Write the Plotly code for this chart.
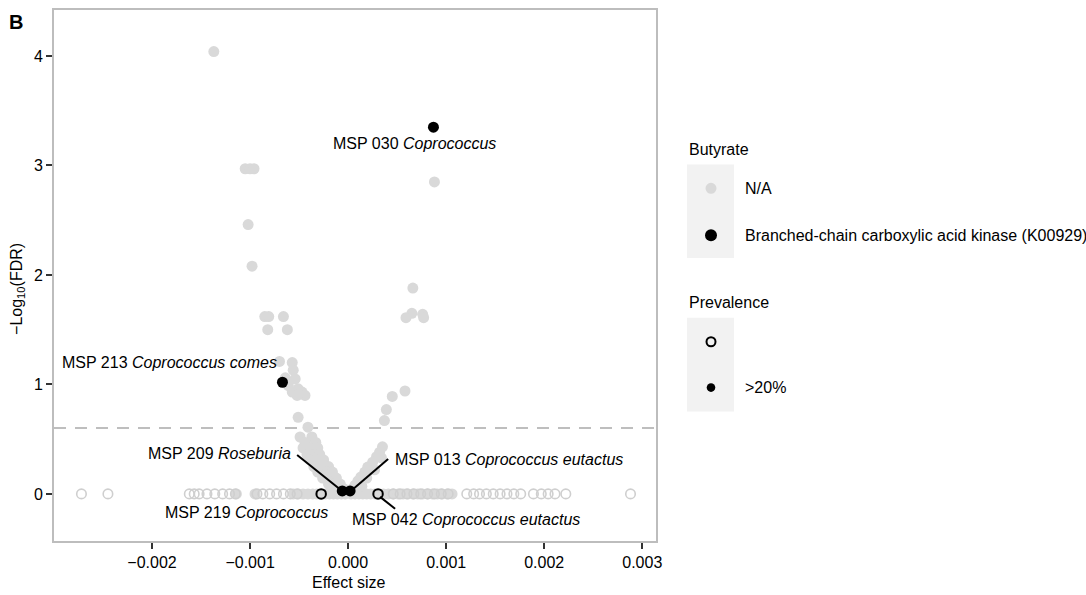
import plotly.graph_objects as go

# ---------------- data ----------------
# Butyrate N/A, prevalence >20% (filled light grey)
na_hi_x = [-0.00137,
           -0.00105, -0.00100, -0.00096,
           -0.00102, -0.00098,
           -0.00085, -0.00081, -0.00066, -0.00082, -0.00062,
           0.00088, 0.00066, 0.00065, 0.00059, 0.00076, 0.00077,
           0.00058, 0.00045, 0.00039, 0.00037, 0.00035,
           -0.00070, -0.00057, -0.00056, -0.00054, -0.00051, -0.00047, -0.00044,
           -0.00064, -0.00061, -0.00057, -0.00052, -0.00051, -0.00041,
           -0.00049, -0.00037, -0.00044, -0.00033, -0.00046, -0.00039, -0.00031,
           -0.00042, -0.00035, -0.00029, -0.00039, -0.00031, -0.00025,
           -0.00035, -0.00028, -0.00020, -0.00031, -0.00022, -0.00016,
           -0.00026, -0.00018, -0.00012, -0.00020, -0.00014, -0.00008,
           -0.00015, -0.00009, -0.00004, -0.00010, -0.00002,
           0.00032, 0.00029, 0.00025, 0.00020, 0.00017, 0.00013, 0.00010,
           0.00007, 0.00004, 0.00001, 0.00034, 0.00027, 0.00019, 0.00014,
           -0.00114, -0.00095,
           -0.00056, -0.00051, -0.00046, -0.00041, -0.00036, -0.00032, -0.00027,
           -0.00023, -0.00019, -0.00015, -0.00011, -0.00007, -0.00003,
           0.00003, 0.00007, 0.00011, 0.00015, 0.00019, 0.00023, 0.00027,
           0.00036, 0.00041, 0.00046, 0.00051, 0.00056, 0.00061, 0.00066,
           0.00071, 0.00076, 0.00081, 0.00086, 0.00091, 0.00096, 0.00101, 0.00106]
na_hi_y = [4.04,
           2.97, 2.97, 2.97,
           2.46, 2.08,
           1.62, 1.62, 1.62, 1.50, 1.50,
           2.85, 1.88, 1.65, 1.61, 1.64, 1.61,
           0.94, 0.89, 0.77, 0.67, 0.43,
           1.21, 1.20, 1.13, 1.05, 0.96, 0.93, 0.90,
           1.06, 0.99, 0.93, 0.90, 0.70, 0.61,
           0.52, 0.52, 0.47, 0.47, 0.42, 0.42, 0.42,
           0.36, 0.36, 0.36, 0.31, 0.31, 0.31,
           0.25, 0.25, 0.25, 0.20, 0.20, 0.20,
           0.145, 0.145, 0.145, 0.09, 0.09, 0.09,
           0.045, 0.045, 0.045, 0.018, 0.018,
           0.38, 0.34, 0.29, 0.245, 0.20, 0.155, 0.12,
           0.08, 0.045, 0.02, 0.33, 0.22, 0.145, 0.07,
           0.0, 0.0,
           0.0, 0.0, 0.0, 0.0, 0.0, 0.0, 0.0,
           0.0, 0.0, 0.0, 0.0, 0.0, 0.0,
           0.0, 0.0, 0.0, 0.0, 0.0, 0.0, 0.0,
           0.0, 0.0, 0.0, 0.0, 0.0, 0.0, 0.0,
           0.0, 0.0, 0.0, 0.0, 0.0, 0.0, 0.0, 0.0]

# Butyrate N/A, low prevalence (open light grey), FDR = 1
na_lo_x = [-0.00272, -0.00245,
           -0.00162, -0.00157, -0.00152, -0.00144, -0.00136, -0.00128, -0.00121, -0.00115,
           -0.00093, -0.00087, -0.00080, -0.00073, -0.00066, -0.00059, -0.00052,
           0.00046, 0.00053, 0.00060, 0.00067, 0.00074, 0.00081, 0.00088, 0.00095, 0.00102,
           0.00121, 0.00128, 0.00134, 0.00141, 0.00148, 0.00155, 0.00162, 0.00169, 0.00176,
           0.00189, 0.00197, 0.00204, 0.00211, 0.00222, 0.00288]
na_lo_y = [0.0, 0.0,
           0.0, 0.0, 0.0, 0.0, 0.0, 0.0, 0.0, 0.0,
           0.0, 0.0, 0.0, 0.0, 0.0, 0.0, 0.0,
           0.0, 0.0, 0.0, 0.0, 0.0, 0.0, 0.0, 0.0, 0.0,
           0.0, 0.0, 0.0, 0.0, 0.0, 0.0, 0.0, 0.0, 0.0,
           0.0, 0.0, 0.0, 0.0, 0.0, 0.0]

# Branched-chain carboxylic acid kinase (K00929)
k_hi_x = [0.00087, -0.00067, -0.00006, 0.00002]
k_hi_y = [3.35, 1.02, 0.027, 0.027]
k_lo_x = [-0.000275, 0.000305]
k_lo_y = [0.0, 0.0]

# labels
lab_text = ["MSP 030 <i>Coprococcus</i>",
            "MSP 213 <i>Coprococcus comes</i>",
            "MSP 209 <i>Roseburia</i>",
            "MSP 013 <i>Coprococcus eutactus</i>",
            "MSP 219 <i>Coprococcus</i>",
            "MSP 042 <i>Coprococcus eutactus</i>"]
lab_x = [0.000675, -0.000703, -0.00056, 0.000459, -0.000183, 0.00002]
lab_y = [3.20, 1.20, 0.373, 0.318, -0.173, -0.236]
lab_anchor = ["center", "right", "right", "left", "right", "left"]

# label segments (from label to point)
seg_x0 = [-0.00052, 0.000408, 0.000326]
seg_y0 = [0.355, 0.318, -0.027]
seg_x1 = [-0.000061, 0.00004, 0.000479]
seg_y1 = [0.027, 0.036, -0.136]

fdr_line = 0.602  # -log10(0.25)

x_ticks = [-0.002, -0.001, 0.0, 0.001, 0.002, 0.003]
y_ticks = [0, 1, 2, 3, 4]

# ---------------- figure ----------------
FONT = "Liberation Sans, Arial, Helvetica, sans-serif"
GREY = "#D9D9D9"
W, H = 1086, 595
L, R, T, B = 54, 656, 8, 541


def px(xp):
    return (xp - L) / (R - L)


def py(yp):
    return (B - yp) / (B - T)


fig = go.Figure()
fig.add_trace(go.Scatter(x=na_hi_x, y=na_hi_y, mode="markers",
                         marker=dict(size=11, color=GREY, line=dict(width=0)),
                         showlegend=False, hoverinfo="skip"))
fig.add_trace(go.Scatter(x=na_lo_x, y=na_lo_y, mode="markers",
                         marker=dict(size=9.5, symbol="circle-open", color="#CFCFCF",
                                     line=dict(width=1.6, color="#CFCFCF")),
                         showlegend=False, hoverinfo="skip"))
fig.add_trace(go.Scatter(x=k_hi_x, y=k_hi_y, mode="markers",
                         marker=dict(size=11, color="black", line=dict(width=0)),
                         showlegend=False, hoverinfo="skip"))
fig.add_trace(go.Scatter(x=k_lo_x, y=k_lo_y, mode="markers",
                         marker=dict(size=9.5, symbol="circle-open", color="black",
                                     line=dict(width=2, color="black")),
                         showlegend=False, hoverinfo="skip"))

shapes = [dict(type="line", xref="paper", x0=0, x1=1, yref="y", y0=fdr_line, y1=fdr_line,
               line=dict(color="#BEBEBE", width=2, dash="12px,9px"), layer="below")]
for a, b, c, d in zip(seg_x0, seg_y0, seg_x1, seg_y1):
    shapes.append(dict(type="line", xref="x", yref="y", x0=a, y0=b, x1=c, y1=d,
                       line=dict(color="black", width=2)))

annotations = []
for t, x, y, anc in zip(lab_text, lab_x, lab_y, lab_anchor):
    annotations.append(dict(text=t, x=x, y=y, xref="x", yref="y", showarrow=False,
                            xanchor=anc, yanchor="middle",
                            font=dict(family=FONT, size=16, color="black")))

# axis titles
annotations.append(dict(text="Effect size", x=px(349), y=py(583), xref="paper", yref="paper",
                        showarrow=False, xanchor="center", yanchor="middle",
                        font=dict(family=FONT, size=16, color="black")))
annotations.append(dict(text="\u2212Log<sub>10</sub>(FDR)", x=px(18), y=py(288),
                        xref="paper", yref="paper", showarrow=False, textangle=-90,
                        xanchor="center", yanchor="middle",
                        font=dict(family=FONT, size=16, color="black")))
# panel tag
annotations.append(dict(text="<b>B</b>", x=px(7), y=py(20), xref="paper", yref="paper",
                        showarrow=False, xanchor="left", yanchor="middle",
                        font=dict(family=FONT, size=20, color="black")))

# ---- manual legend ----
leg_items = [
    ("title", "Butyrate", 148),
    ("box", None, (163, 257)),
    ("na", "N/A", 187),
    ("k", "Branched-chain carboxylic acid kinase (K00929)", 234),
    ("title", "Prevalence", 302),
    ("box", None, (317, 411)),
    ("open", "", 341),
    ("small", ">20%", 387),
]
for kind, txt, pos in leg_items:
    if kind == "title":
        annotations.append(dict(text=txt, x=px(687), y=py(pos), xref="paper", yref="paper",
                                showarrow=False, xanchor="left", yanchor="middle",
                                font=dict(family=FONT, size=16, color="black")))
    elif kind == "box":
        shapes.append(dict(type="rect", xref="paper", yref="paper",
                           x0=px(687), x1=px(734), y0=py(pos[1]), y1=py(pos[0]),
                           fillcolor="#F2F2F2", line=dict(width=0), layer="below"))
    else:
        if kind == "na":
            r, fill, lc, lw = 5.5, GREY, GREY, 0
        elif kind == "k":
            r, fill, lc, lw = 6, "black", "black", 0
        elif kind == "open":
            r, fill, lc, lw = 4.5, "rgba(0,0,0,0)", "black", 2
        else:
            r, fill, lc, lw = 4.3, "black", "black", 0
        shapes.append(dict(type="circle", xref="paper", yref="paper",
                           xsizemode="pixel", ysizemode="pixel",
                           xanchor=px(711), yanchor=py(pos),
                           x0=-r, x1=r, y0=-r, y1=r,
                           fillcolor=fill, line=dict(color=lc, width=lw)))
        if txt:
            annotations.append(dict(text=txt, x=px(743), y=py(pos), xref="paper", yref="paper",
                                    showarrow=False, xanchor="left", yanchor="middle",
                                    font=dict(family=FONT, size=16, color="black")))

fig.update_layout(
    width=W, height=H,
    margin=dict(l=L, r=W - R, t=T, b=H - B, pad=0),
    plot_bgcolor="white", paper_bgcolor="white",
    font=dict(family=FONT, size=16, color="black"),
    shapes=shapes, annotations=annotations,
    showlegend=False,
)
fig.update_xaxes(range=[-0.00300, 0.00314], tickvals=x_ticks, tickformat=".3f",
                 showgrid=False, zeroline=False, showline=True, mirror=True,
                 linecolor="#BDBDBD", linewidth=2,
                 ticks="outside", ticklen=6, tickwidth=1.5, tickcolor="#333333",
                 tickfont=dict(family=FONT, size=16, color="black"))
fig.update_yaxes(range=[-0.43, 4.42], tickvals=y_ticks,
                 showgrid=False, zeroline=False, showline=True, mirror=True,
                 linecolor="#BDBDBD", linewidth=2,
                 ticks="outside", ticklen=6, tickwidth=1.5, tickcolor="#333333",
                 tickfont=dict(family=FONT, size=16, color="black"))

fig.write_html("out.html")
